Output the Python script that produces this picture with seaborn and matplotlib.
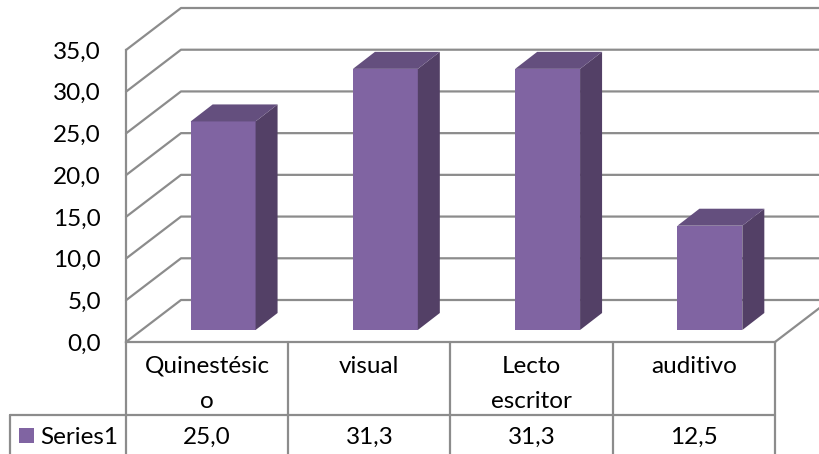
import matplotlib
matplotlib.use("Agg")
import matplotlib.pyplot as plt
import pandas as pd
import seaborn as sns
from matplotlib.patches import Polygon, Rectangle

categories = ["Quinestésic\no", "visual", "Lecto\nescritor", "auditivo"]
values = [25.0, 31.3, 31.3, 12.5]
series_name = "Series1"
y_ticks = [0, 5, 10, 15, 20, 25, 30, 35]

FRONT = "#8064A2"
TOP = "#644F7E"
SIDE = "#534066"
GRID = "#8C8C8C"
W, H = 820, 454
LEFT, RIGHT, BOTTOM, TOP_Y = 126, 775, 342, 50
FONT = 17.5

sns.set_theme(style="white")
plt.rcParams["font.family"] = ["Lato", "DejaVu Sans"]

fig = plt.figure(figsize=(W / 100, H / 100), dpi=100)
ax = fig.add_axes([LEFT / W, 1 - BOTTOM / H, (RIGHT - LEFT) / W, (BOTTOM - TOP_Y) / H])

df = pd.DataFrame({"cat": categories, "val": values})
sns.barplot(data=df, x="cat", y="val", color=FRONT, saturation=1, width=0.4, ax=ax, zorder=3,
            edgecolor="none", linewidth=0)
ax.set_xlim(-0.5, 3.5)
ax.set_ylim(0, 35)

# pixel sizes expressed in data units
sx = (RIGHT - LEFT) / 4
sy = (BOTTOM - TOP_Y) / 35


def px(p):
    return -0.5 + (p - LEFT) / sx


def py(p):
    return (BOTTOM - p) / sy


# back wall and floor grid
for v in y_ticks:
    ax.plot([px(LEFT), px(181), px(840)], [v, v + 42 / sy, v + 42 / sy],
            color=GRID, lw=1.6, clip_on=False, zorder=1)
ax.plot([px(RIGHT), px(830)], [0, 42 / sy], color=GRID, lw=1.6, clip_on=False, zorder=1)

# shift the bars onto the floor and give them depth
off_x, off_y = 16 / sx, 12 / sy
dep_x, dep_y = 22 / sx, 17 / sy
for bar in ax.patches:
    bar.set_x(bar.get_x() + off_x)
    bar.set_y(off_y)
    bar.set_clip_on(False)
    x0 = bar.get_x()
    x1 = x0 + bar.get_width()
    y0 = off_y
    y1 = off_y + bar.get_height()
    ax.add_patch(Polygon([(x1, y0), (x1 + dep_x, y0 + dep_y), (x1 + dep_x, y1 + dep_y), (x1, y1)],
                         facecolor=SIDE, edgecolor="none", clip_on=False, zorder=3))
    ax.add_patch(Polygon([(x0, y1), (x0 + dep_x, y1 + dep_y), (x1 + dep_x, y1 + dep_y), (x1, y1)],
                         facecolor=TOP, edgecolor="none", clip_on=False, zorder=3))

# axes text
ax.set_xlabel("")
ax.set_ylabel("")
ax.set_yticks(y_ticks)
ax.set_yticklabels([f"{v:.1f}".replace(".", ",") for v in y_ticks], fontsize=FONT, color="black")
ax.set_xticks(range(4))
ax.set_xticklabels(categories, fontsize=FONT, color="black", linespacing=1.85)
ax.tick_params(axis="y", length=0, pad=18)
ax.tick_params(axis="x", length=0, pad=10)
sns.despine(ax=ax, top=True, right=True)
for side in ["left", "bottom"]:
    ax.spines[side].set_color(GRID)
    ax.spines[side].set_linewidth(1.6)
    ax.spines[side].set_zorder(2)

# data table under the plot
table_cols = [126, 288, 450, 613, 775]
ROW = 415
for c in table_cols:
    ax.plot([px(c), px(c)], [py(BOTTOM), py(H + 2)], color=GRID, lw=1.6, clip_on=False, zorder=2)
ax.plot([px(10), px(10)], [py(ROW), py(H + 2)], color=GRID, lw=1.6, clip_on=False, zorder=2)
ax.plot([px(10), px(RIGHT)], [py(ROW), py(ROW)], color=GRID, lw=1.6, clip_on=False, zorder=2)

for i, v in enumerate(values):
    ax.text(i, py(437), f"{v:.1f}".replace(".", ","), ha="center", va="center",
            fontsize=FONT, color="black", clip_on=False)
ax.add_patch(Rectangle((px(19), py(443)), 15 / sx, 15 / sy, facecolor=FRONT, edgecolor="none", clip_on=False))
ax.text(px(40), py(437), series_name, ha="left", va="center", fontsize=FONT, color="black", clip_on=False)

fig.savefig("out.png", dpi=100)
